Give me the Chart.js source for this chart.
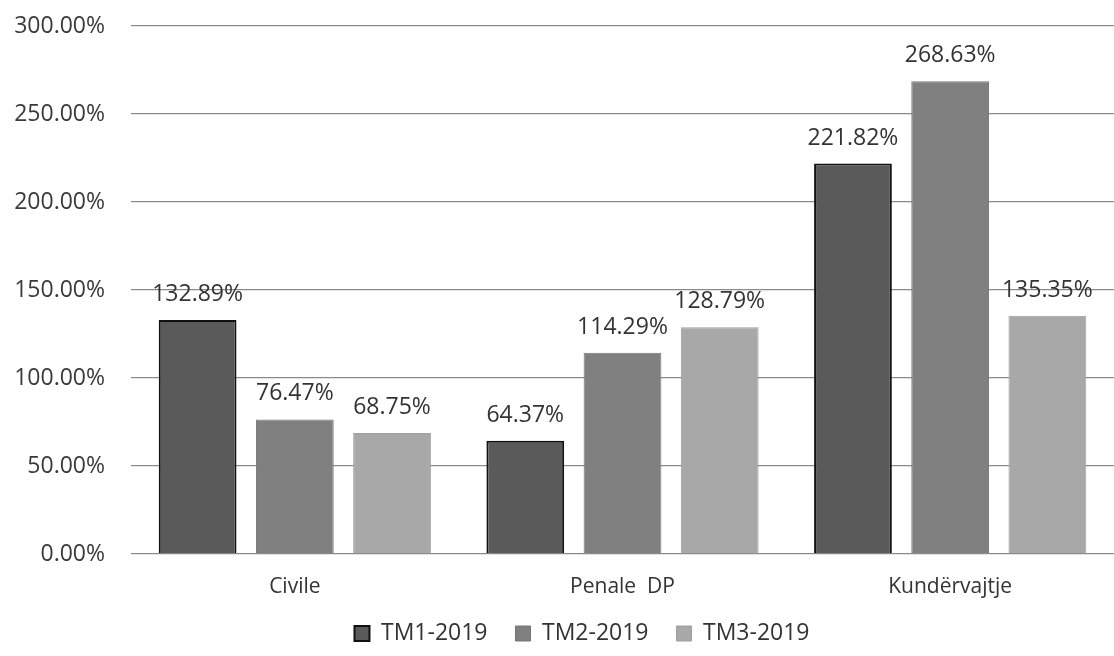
<!DOCTYPE html>
<html lang="sq">
<head>
<meta charset="UTF-8">
<title>TM 2019</title>
<script src="https://cdn.jsdelivr.net/npm/chart.js"></script>
<style>
  body { margin: 0; background: #fff; }
  #wrap { width: 1114px; height: 656px; }
</style>
</head>
<body>
<div id="wrap"><canvas id="chart" width="1114" height="656"></canvas></div>
<script>
  const categories = ['Civile', 'Penale  DP', 'Kundërvajtje'];
  const seriesNames = ['TM1-2019', 'TM2-2019', 'TM3-2019'];
  const tm1 = [132.89, 64.37, 221.82];
  const tm2 = [76.47, 114.29, 268.63];
  const tm3 = [68.75, 128.79, 135.35];
  const yTicks = [0, 50, 100, 150, 200, 250, 300];

  const fontFamily = '"Open Sans", "Liberation Sans", sans-serif';
  const fills = ['#5a5a5a', '#808080', '#a8a8a8'];
  const borders = ['#111', '#777', '#a0a0a0'];

  // write the value above each bar
  const valueLabels = {
    id: 'valueLabels',
    afterDatasetsDraw(chart) {
      const ctx = chart.ctx;
      ctx.save();
      ctx.font = '23px ' + fontFamily;
      ctx.fillStyle = '#333';
      ctx.textAlign = 'center';
      ctx.textBaseline = 'alphabetic';
      chart.data.datasets.forEach((ds, i) => {
        chart.getDatasetMeta(i).data.forEach((bar, j) => {
          ctx.fillText(ds.data[j].toFixed(2) + '%', bar.x, bar.y - 19);
        });
      });
      ctx.restore();
    }
  };

  // legend sits closer to the axis labels and a bit right of centre
  const legendTweak = {
    id: 'legendTweak',
    afterInit(chart) {
      const legend = chart.legend;
      const fit = legend.fit;
      legend.fit = function () { fit.call(this); this.height -= 10; };
    },
    afterUpdate(chart) {
      const legend = chart.legend;
      legend.top -= 11;
      legend.left += 25;
      legend.right += 25;
    }
  };

  const allSeries = [tm1, tm2, tm3];

  new Chart(document.getElementById('chart'), {
    type: 'bar',
    data: {
      labels: categories,
      datasets: allSeries.map((vals, i) => ({
        label: seriesNames[i],
        data: vals,
        backgroundColor: fills[i],
        borderColor: borders[i],
        borderWidth: i === 0 ? 2 : 1,
        barPercentage: 0.8,
        categoryPercentage: 0.89
      }))
    },
    options: {
      responsive: false,
      animation: false,
      layout: { padding: 0 },
      plugins: {
        legend: {
          position: 'bottom',
          labels: {
            boxWidth: 15,
            boxHeight: 15,
            padding: 28,
            color: '#333',
            font: { family: fontFamily, size: 23 }
          }
        },
        tooltip: { enabled: false }
      },
      scales: {
        x: {
          grid: { display: false, drawTicks: false },
          border: { display: false },
          afterFit(scale) { scale.height = 51; },
          ticks: { color: '#333', padding: 20, font: { family: fontFamily, size: 21 } }
        },
        y: {
          min: 0,
          max: 300,
          afterBuildTicks(axis) { axis.ticks = yTicks.map(v => ({ value: v })); },
          afterFit(scale) {
            scale.width = 131;
            scale.paddingTop = 26;
            scale.paddingBottom = 0;
          },
          grid: { color: '#8a8a8a', lineWidth: 1.3, drawTicks: false },
          border: { display: false },
          ticks: {
            color: '#3a3a3a',
            padding: 26,
            font: { family: fontFamily, size: 23 },
            callback: v => v.toFixed(2) + '%'
          }
        }
      }
    },
    plugins: [valueLabels, legendTweak]
  });
</script>
</body>
</html>
